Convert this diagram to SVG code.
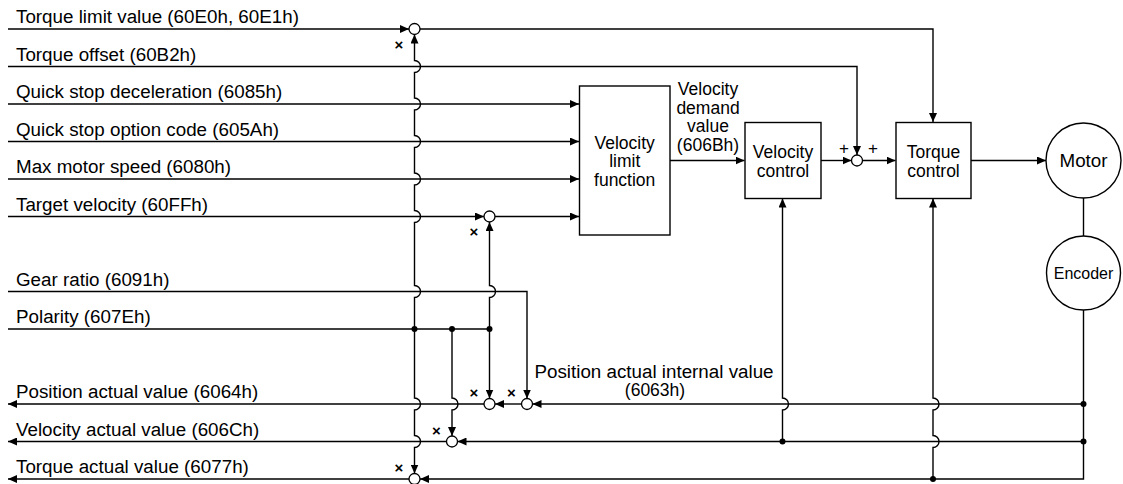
<svg xmlns="http://www.w3.org/2000/svg" width="1123" height="484" viewBox="0 0 1123 484">
<style>
text{font-family:"Liberation Sans",Arial,Helvetica,sans-serif;fill:#000}
.lbl{font-size:18.8px}
.ml{font-size:17.5px;text-anchor:middle}
.c{text-anchor:middle}
.enc{font-size:16px}
.x{font-size:15px;font-weight:bold;text-anchor:middle}
.pl{font-size:17px;text-anchor:middle}
.box{fill:#fff;stroke:#000;stroke-width:1.4}
.ln{fill:none;stroke:#000;stroke-width:1.4}
.arr{fill:none;stroke:#000;stroke-width:1.4;marker-end:url(#ah)}
.sum{fill:#fff;stroke:#000;stroke-width:1.3}
.dot{fill:#000}
</style>
<defs>
<marker id="ah" markerUnits="userSpaceOnUse" markerWidth="9" markerHeight="8" viewBox="0 0 9 8" refX="9" refY="4" orient="auto">
<path d="M0,0 L9,4 L0,8 z" fill="#000"/>
</marker>
</defs>
<rect width="1123" height="484" fill="#fff"/>

<g id="connectors">
<path class="arr" d="M8,29 L409,29"/>
<path class="arr" d="M420,29 L933,29 L933,122"/>
<path class="arr" d="M8,66.5 L857,66.5 L857,155"/>
<path class="arr" d="M8,104 L579,104"/>
<path class="arr" d="M8,141.5 L579,141.5"/>
<path class="arr" d="M8,179 L579,179"/>
<path class="arr" d="M8,216.5 L484,216.5"/>
<path class="arr" d="M495,216.5 L579,216.5"/>
<path class="arr" d="M8,291.5 L527,291.5 L527,398.5"/>
<path class="ln" d="M8,329 L489.5,329"/>
<path class="arr" d="M414.5,329 L414.5,297.5 A6,6 0 0 0 414.5,285.5 L414.5,222.5 A6,6 0 0 0 414.5,210.5 L414.5,185 A6,6 0 0 0 414.5,173 L414.5,147.5 A6,6 0 0 0 414.5,135.5 L414.5,110 A6,6 0 0 0 414.5,98 L414.5,72.5 A6,6 0 0 0 414.5,60.5 L414.5,34.5"/>
<path class="arr" d="M414.5,329 L414.5,398 A6,6 0 0 1 414.5,410 L414.5,435.5 A6,6 0 0 1 414.5,447.5 L414.5,473.5"/>
<path class="arr" d="M452,329 L452,398 A6,6 0 0 1 452,410 L452,436"/>
<path class="arr" d="M489.5,329 L489.5,297.5 A6,6 0 0 0 489.5,285.5 L489.5,222"/>
<path class="arr" d="M489.5,329 L489.5,398.5"/>
<path class="arr" d="M670,160.5 L744.5,160.5"/>
<path class="arr" d="M821,160.5 L851.5,160.5"/>
<path class="arr" d="M862.5,160.5 L895.5,160.5"/>
<path class="arr" d="M971,160.5 L1046,160.5"/>
<path class="ln" d="M1083.5,198 L1083.5,236"/>
<path class="arr" d="M1083.5,404 L532.5,404"/>
<path class="arr" d="M521.5,404 L495,404"/>
<path class="arr" d="M484,404 L8,404"/>
<path class="arr" d="M1083.5,441.5 L457.5,441.5"/>
<path class="arr" d="M446.5,441.5 L8,441.5"/>
<path class="arr" d="M1083.5,310 L1083.5,479 L420,479"/>
<path class="arr" d="M409,479 L8,479"/>
<path class="arr" d="M782.5,441.5 L782.5,410 A6,6 0 0 0 782.5,398 L782.5,198.5"/>
<path class="arr" d="M933,479 L933,447.5 A6,6 0 0 0 933,435.5 L933,410 A6,6 0 0 0 933,398 L933,198.5"/>
<circle class="dot" cx="414.5" cy="329" r="3"/>
<circle class="dot" cx="452" cy="329" r="3"/>
<circle class="dot" cx="489.5" cy="329" r="3"/>
<circle class="dot" cx="1083.5" cy="404" r="3"/>
<circle class="dot" cx="1083.5" cy="441.5" r="3"/>
<circle class="dot" cx="782.5" cy="441.5" r="3"/>
<circle class="dot" cx="933" cy="479" r="3"/>
</g>

<g id="signal-labels">
<text class="lbl" x="16" y="23">Torque limit value (60E0h, 60E1h)</text>
<text class="lbl" x="16" y="60.5">Torque offset (60B2h)</text>
<text class="lbl" x="16" y="98">Quick stop deceleration (6085h)</text>
<text class="lbl" x="16" y="135.5">Quick stop option code (605Ah)</text>
<text class="lbl" x="16" y="173">Max motor speed (6080h)</text>
<text class="lbl" x="16" y="210.5">Target velocity (60FFh)</text>
<text class="lbl" x="16" y="285.5">Gear ratio (6091h)</text>
<text class="lbl" x="16" y="323">Polarity (607Eh)</text>
<text class="lbl" x="16" y="398">Position actual value (6064h)</text>
<text class="lbl" x="16" y="435.5">Velocity actual value (606Ch)</text>
<text class="lbl" x="16" y="473">Torque actual value (6077h)</text>
<text class="ml" x="708" y="95"><tspan x="708" y="95">Velocity</tspan><tspan x="708" y="113.5">demand</tspan><tspan x="708" y="132">value</tspan><tspan x="708" y="150.5">(606Bh)</tspan></text>
<text class="lbl c" x="654" y="377.5">Position actual internal value</text>
<text class="ml" x="655" y="396">(6063h)</text>
</g>

<g id="sum-torque-limit"><circle class="sum" cx="414.5" cy="29" r="5.5"/><text class="x" x="399" y="49.5">×</text></g>
<g id="sum-target-velocity"><circle class="sum" cx="489.5" cy="216.5" r="5.5"/><text class="x" x="474" y="236.5">×</text></g>
<g id="sum-position-internal"><circle class="sum" cx="527" cy="404" r="5.5"/><text class="x" x="511.5" y="398">×</text></g>
<g id="sum-position"><circle class="sum" cx="489.5" cy="404" r="5.5"/><text class="x" x="474" y="398">×</text></g>
<g id="sum-velocity"><circle class="sum" cx="452" cy="441.5" r="5.5"/><text class="x" x="436.5" y="435.5">×</text></g>
<g id="sum-torque-actual"><circle class="sum" cx="414.5" cy="479" r="5.5"/><text class="x" x="399" y="472.5">×</text></g>
<g id="sum-torque-command"><circle class="sum" cx="857" cy="160.5" r="5.5"/><text class="pl" x="844" y="154">+</text><text class="pl" x="873" y="154">+</text></g>

<g id="velocity-limit-function">
<rect class="box" x="579.5" y="86" width="90.5" height="149"/>
<text class="ml" x="624.7" y="148.5"><tspan x="624.7" y="148.5">Velocity</tspan><tspan x="624.7" y="167">limit</tspan><tspan x="624.7" y="185.5">function</tspan></text>
</g>
<g id="velocity-control">
<rect class="box" x="745" y="122.5" width="76" height="76"/>
<text class="ml" x="783" y="158"><tspan x="783" y="158">Velocity</tspan><tspan x="783" y="176.5">control</tspan></text>
</g>
<g id="torque-control">
<rect class="box" x="896" y="122.5" width="75" height="76"/>
<text class="ml" x="933.5" y="158"><tspan x="933.5" y="158">Torque</tspan><tspan x="933.5" y="176.5">control</tspan></text>
</g>
<g id="motor">
<circle class="box" cx="1083.5" cy="160.5" r="37.5"/>
<text class="lbl c" x="1083.5" y="167">Motor</text>
</g>
<g id="encoder">
<circle class="box" cx="1083.5" cy="273" r="37"/>
<text class="enc c" x="1083.5" y="279">Encoder</text>
</g>
</svg>
